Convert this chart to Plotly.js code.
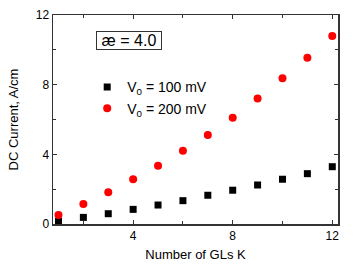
<!DOCTYPE html>
<html><head><meta charset="utf-8">
<script src="https://cdn.plot.ly/plotly-3.0.1.min.js"></script>
<style>body{margin:0;padding:0;background:#fff}#chart{width:354px;height:270px}</style>
</head><body><div id="chart"></div>
<script>
const glK = [1,2,3,4,5,6,7,8,9,10,11,12];
const current100 = [0.15,0.38,0.59,0.84,1.09,1.34,1.65,1.94,2.24,2.57,2.89,3.29];
const current200 = [0.52,1.15,1.82,2.57,3.35,4.21,5.11,6.10,7.20,8.37,9.54,10.79];
const seriesNames = ['V<sub>0</sub> = 100 mV','V<sub>0</sub> = 200 mV'];
const xTicks = [4,8,12];
const yTicks = [0,4,8,12];

const font = {family:'Liberation Sans, Arial, sans-serif', color:'#000'};
const traces = [
  {x:glK, y:current100, mode:'markers', type:'scatter', name:seriesNames[0],
   marker:{symbol:'square', size:7, color:'#000'}},
  {x:glK, y:current200, mode:'markers', type:'scatter', name:seriesNames[1],
   marker:{symbol:'circle', size:8, color:'#ff0000'}}
];
const axisCommon = {showline:true, linecolor:'#333', linewidth:1.5, mirror:'ticks',
  ticks:'inside', ticklen:4, tickwidth:1, tickcolor:'#333', showgrid:false, zeroline:false,
  tickfont:Object.assign({size:12}, font),
  minor:{ticks:'inside', ticklen:3, tickwidth:1, tickcolor:'#333'}};
const layout = {
  width:354, height:270,
  margin:{l:53, r:16, t:15, b:46},
  paper_bgcolor:'#fff', plot_bgcolor:'#fff',
  font:font,
  showlegend:true,
  legend:{x:0.12, y:0.73, xanchor:'left', yanchor:'top', bgcolor:'rgba(0,0,0,0)',
    font:Object.assign({size:14}, font), itemwidth:30, tracegroupgap:0},
  xaxis:Object.assign({}, axisCommon, {range:[0.78,12.23], tickvals:xTicks, ticktext:xTicks.map(String),
    minor:Object.assign({}, axisCommon.minor, {tickvals:[2,6,10]}),
    title:{text:'Number of GLs K', font:Object.assign({size:13}, font), standoff:8}}),
  yaxis:Object.assign({}, axisCommon, {range:[0,12], tickvals:yTicks, ticktext:yTicks.map(String),
    minor:Object.assign({}, axisCommon.minor, {tickvals:[2,6,10]}),
    title:{text:'DC Current, A/cm', font:Object.assign({size:13}, font), standoff:14}}),
  annotations:[{xref:'paper', yref:'paper', x:0.268, y:0.876, xanchor:'center', yanchor:'middle',
    text:'æ = 4.0', showarrow:false, font:Object.assign({size:16}, font),
    width:60, height:13, align:'center',
    bordercolor:'#333', borderwidth:1, borderpad:2, bgcolor:'#fff'}]
};
Plotly.newPlot('chart', traces, layout, {displayModeBar:false, staticPlot:true});
</script></body></html>
